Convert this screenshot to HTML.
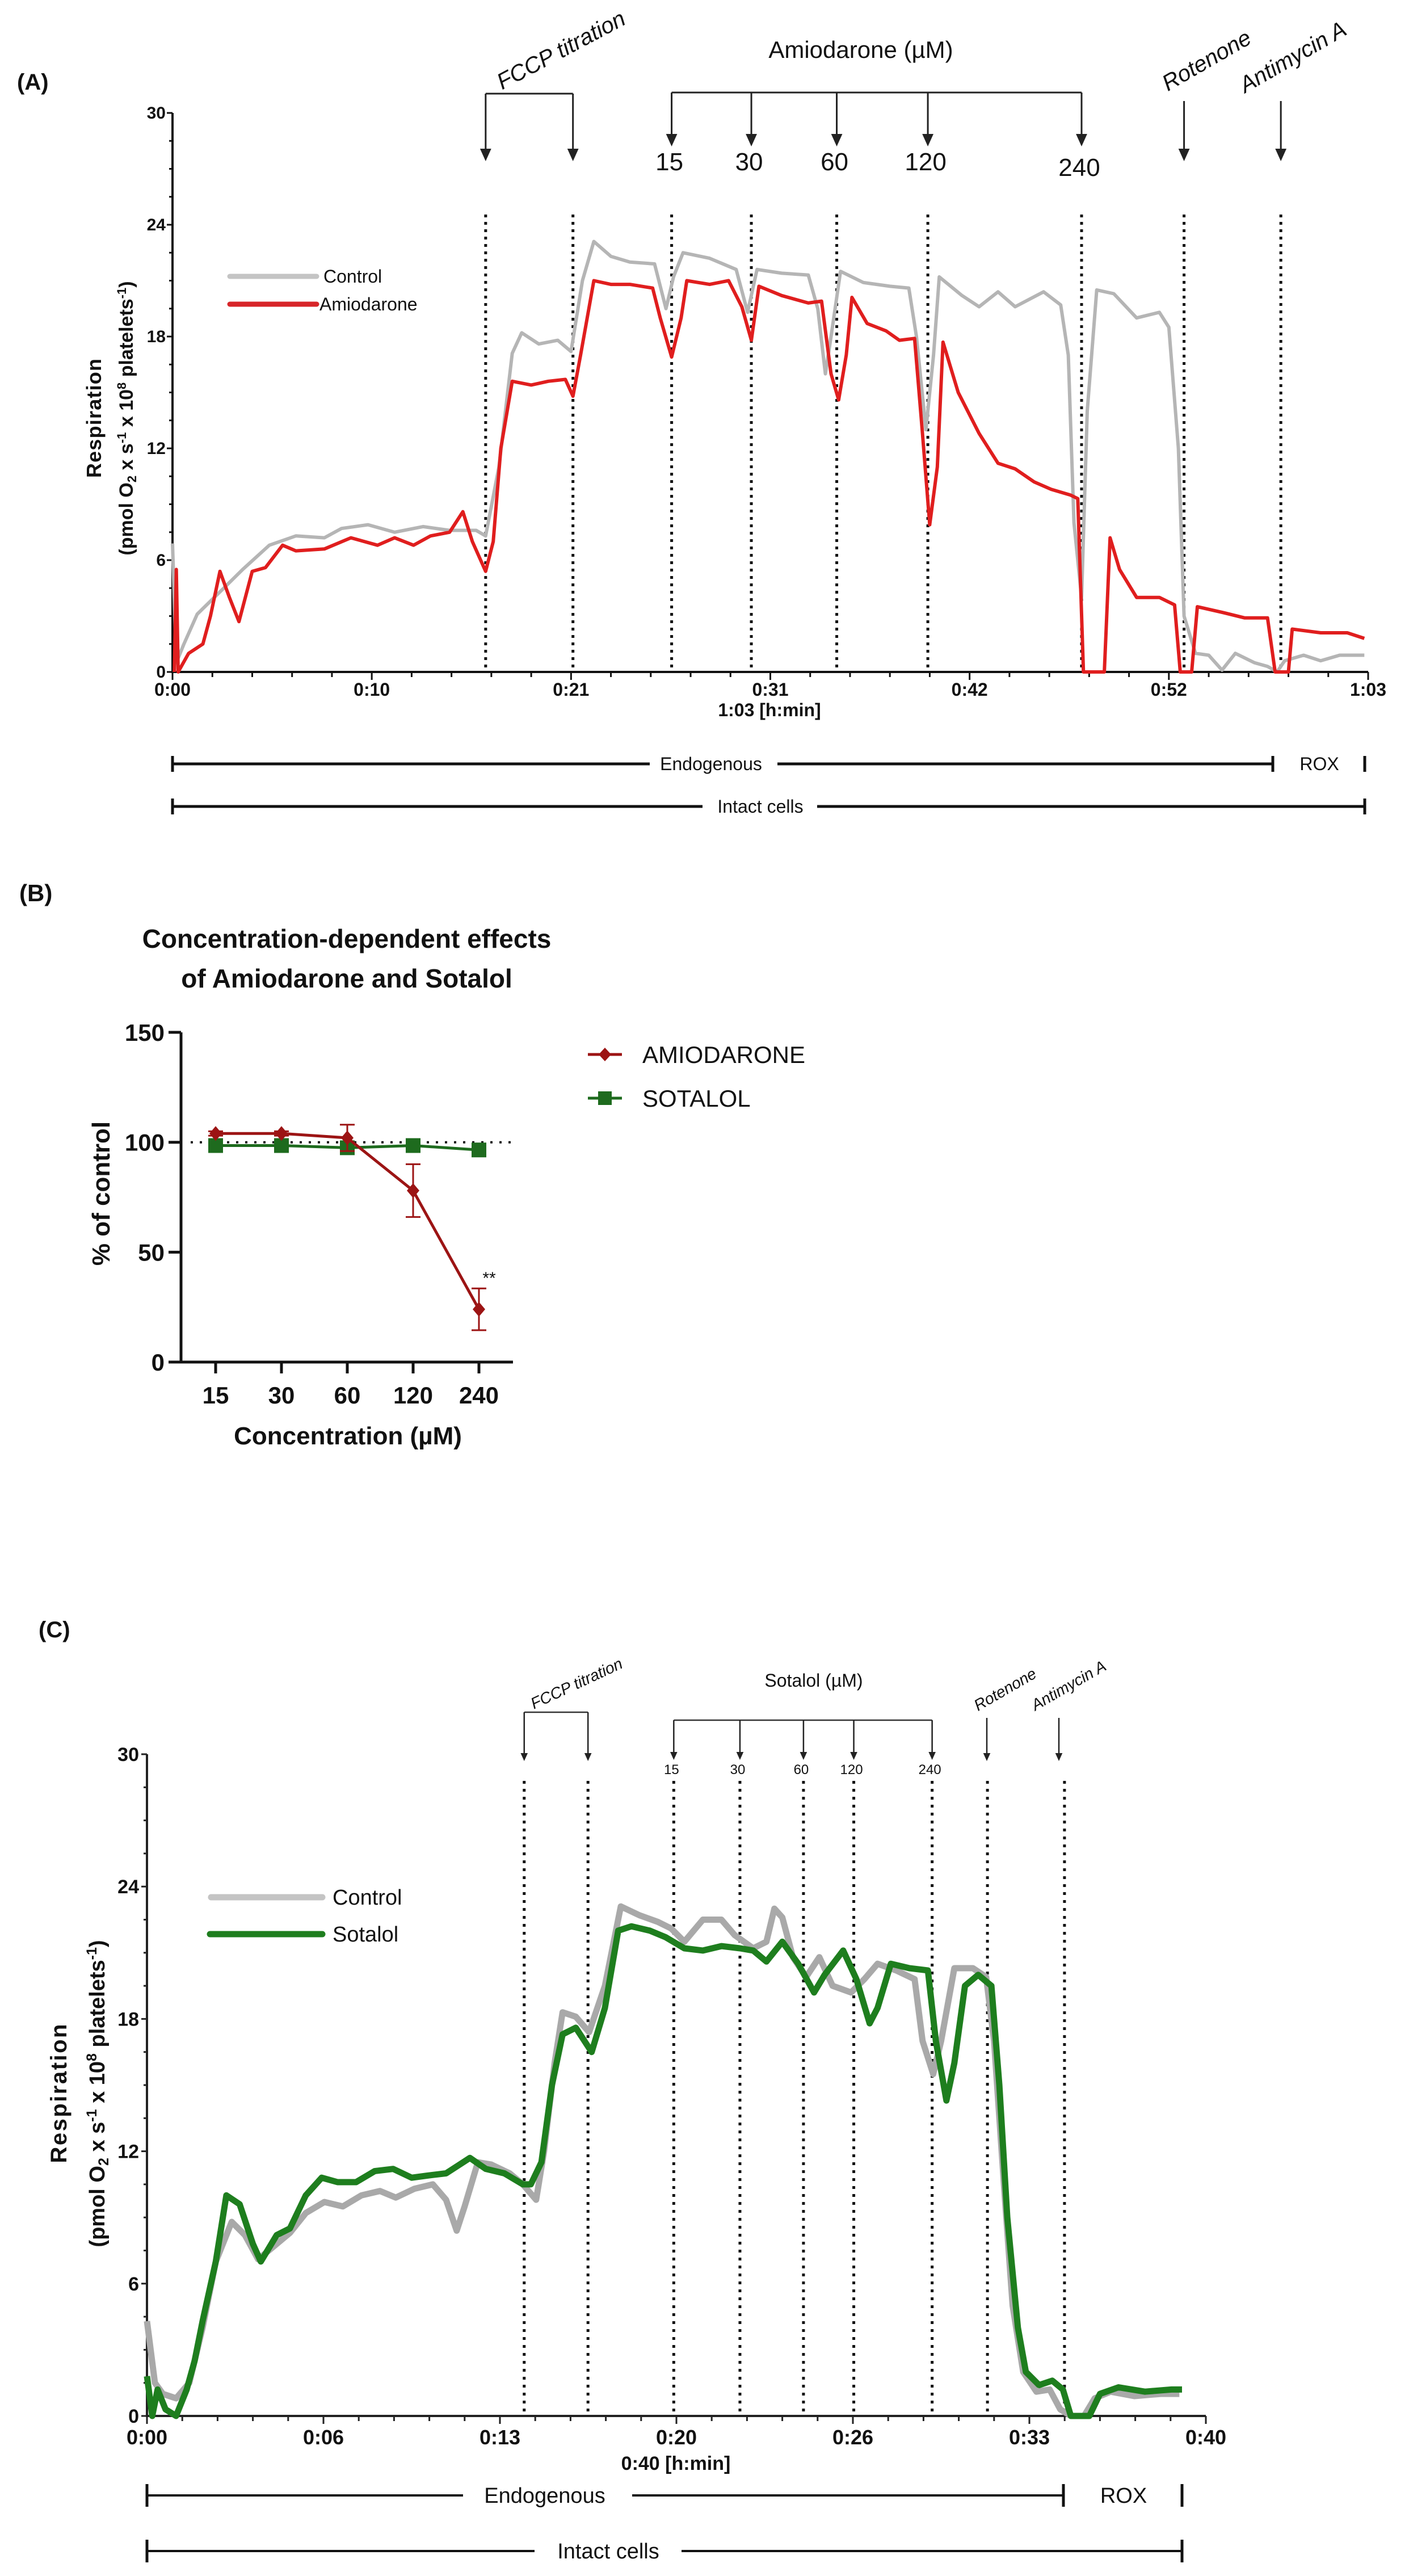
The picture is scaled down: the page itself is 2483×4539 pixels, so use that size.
<!DOCTYPE html>
<html><head><meta charset="utf-8">
<style>
html,body{margin:0;padding:0;background:#fff;}
svg{display:block;}
text{font-family:"Liberation Sans Narrow","Liberation Sans",sans-serif;fill:#111;}
.b{font-family:"Liberation Sans",sans-serif;font-weight:bold;}
</style></head>
<body>
<svg id="fig" xmlns="http://www.w3.org/2000/svg" width="2483" height="4539" viewBox="0 0 2483 4539">
<rect width="2483" height="4539" fill="#fff"/>
<g id="pa"></g>
<g id="pb"></g>
<g id="pc"></g>
</svg>
<script>
// ---------- Panel A data ----------
const aTickLabels = ["0:00","0:10","0:21","0:31","0:42","0:52","1:03"];
const aYTicks = [0,6,12,18,24,30];
const aEventTimes = [16.5,21.1,26.3,30.5,35.0,39.8,47.9,53.3,58.4];
const aDoseLabels = ["15","30","60","120","240"];
const aCtrlT = [0,0.2,0.6,1.3,2.7,3.7,5.1,6.5,8,8.9,10.3,11.7,13.2,14.6,16,16.5,17.2,17.9,18.4,19.3,20.3,21,21.6,22.2,23.1,24.1,25.4,26,26.4,26.9,28.3,29.7,30.3,30.8,32.1,33.5,34,34.4,34.7,35.2,36.4,37.8,38.8,39.2,39.7,40.1,40.4,41.6,42.5,43.5,44.4,45.9,46.8,47.2,47.5,47.9,48.2,48.7,49.6,50.8,52,52.5,53,53.3,53.9,54.6,55.3,56,57,57.7,58.2,58.6,59.6,60.5,61.5,62.8];
const aCtrlV = [6.9,0.5,1.5,3.1,4.5,5.5,6.8,7.3,7.2,7.7,7.9,7.5,7.8,7.6,7.6,7.3,11,17.1,18.2,17.6,17.8,17.2,21,23.1,22.3,22,21.9,19.5,21.2,22.5,22.2,21.6,19.3,21.6,21.4,21.3,19.5,16,18,21.5,20.9,20.7,20.6,18,13,17,21.2,20.2,19.6,20.4,19.6,20.4,19.7,17,8,4,14,20.5,20.3,19,19.3,18.5,12,3,1,0.9,0.1,1,0.5,0.3,0,0.6,0.9,0.6,0.9,0.9];
const aAmioT = [0.1,0.2,0.3,0.85,1.6,2,2.5,3,3.5,4.2,4.9,5.8,6.5,8,9.4,10.8,11.7,12.7,13.6,14.6,15.3,15.8,16.5,16.9,17.3,17.9,18.9,19.8,20.7,21.1,21.5,22.2,23.1,24.1,25.3,25.7,26.3,26.8,27.1,28.3,29.3,30,30.5,30.9,32.1,33.5,34.2,34.7,35.1,35.5,35.8,36.6,37.6,38.3,39.1,39.5,39.9,40.3,40.6,41.4,42.5,43.5,44.4,45.4,46.3,47.3,47.7,48,49.1,49.4,49.9,50.8,52,52.8,53.1,53.7,54,55.3,56.5,57.7,58.1,58.8,59,60.5,61.9,62.8];
const aAmioV = [0,5.5,0,1,1.5,3,5.4,4,2.7,5.4,5.6,6.8,6.5,6.6,7.2,6.8,7.2,6.8,7.3,7.5,8.6,7,5.4,7,12,15.6,15.4,15.6,15.7,14.8,17,21,20.8,20.8,20.6,19,16.9,19,21,20.8,21,19.6,17.8,20.7,20.2,19.8,19.9,16,14.6,17,20.1,18.7,18.3,17.8,17.9,13,7.9,11,17.7,15,12.8,11.2,10.9,10.2,9.8,9.5,9.3,0,0,7.2,5.5,4,4,3.6,0,0,3.5,3.2,2.9,2.9,0,0,2.3,2.1,2.1,1.8];

// ---------- Panel B data ----------
const bCategories = ["15","30","60","120","240"];
const bAmioMean = [104,104,102,78,24];
const bAmioErr = [1,1,6,12,9.5];
const bSotalolMean = [98.5,98.5,97.5,98.5,96.5];
const bYTicks = [0,50,100,150];

// ---------- Panel C data ----------
const cTickLabels = ["0:00","0:06","0:13","0:20","0:26","0:33","0:40"];
const cYTicks = [0,6,12,18,24,30];
const cEventTimes = [14.25,16.66,19.9,22.4,24.8,26.7,29.66,31.75,34.66];
const cDoseLabels = ["15","30","60","120","240"];
const cCtrlT = [0,0.3,0.6,1.1,1.6,2.1,2.6,3.2,3.7,4.2,4.7,5.4,6,6.7,7.4,8.1,8.8,9.4,10.1,10.8,11.3,11.7,12,12.5,13,13.7,14.2,14.7,15,15.4,15.7,16.2,16.7,17.3,17.9,18.6,19.3,19.8,20.3,21,21.7,22.2,22.9,23.4,23.7,24,24.4,24.9,25.4,25.9,26.6,27.1,27.6,28.3,29,29.3,29.7,30,30.5,31.2,31.7,32,32.4,32.7,33.1,33.6,34.1,34.5,34.9,35.4,35.8,36.4,37.3,38.3,39];
const cCtrlV = [4.3,1.5,1,0.8,1.5,4,7,8.8,8.2,7.1,7.6,8.3,9.2,9.7,9.5,10,10.2,9.9,10.3,10.5,9.8,8.4,9.5,11.5,11.4,11,10.5,9.8,12,16,18.3,18.1,17.4,19.5,23.1,22.7,22.4,22.1,21.5,22.5,22.5,21.8,21.2,21.5,23,22.6,20.8,19.9,20.8,19.5,19.2,19.8,20.5,20.2,19.8,17,15.5,17,20.3,20.3,19.9,17,10,5,2,1.1,1.2,0.3,0,0,0.8,1.1,0.9,1,1];
const cSotT = [0,0.2,0.4,0.7,1.1,1.5,1.8,2.1,2.6,3,3.5,4,4.3,4.9,5.4,6,6.6,7.2,7.9,8.6,9.3,10,10.6,11.3,12.2,12.8,13.5,14.2,14.5,14.9,15.3,15.7,16.2,16.8,17.3,17.8,18.3,19,19.6,20.3,21,21.7,22.4,22.9,23.4,24,24.6,25.2,25.6,26.3,26.8,27.3,27.6,28.1,28.8,29.5,29.8,30.2,30.5,30.9,31.4,31.9,32.2,32.5,32.9,33.2,33.7,34.2,34.6,34.9,35.6,36,36.7,37.7,38.7,39.1];
const cSotV = [1.8,0,1.2,0.3,0,1.2,2.5,4.3,7,10,9.6,7.8,7,8.2,8.5,10,10.8,10.6,10.6,11.1,11.2,10.8,10.9,11,11.7,11.2,11,10.5,10.5,11.5,15,17.3,17.6,16.5,18.5,22,22.2,22,21.7,21.2,21.1,21.3,21.2,21.1,20.6,21.5,20.5,19.2,20,21.1,19.8,17.8,18.5,20.5,20.3,20.2,17,14.3,16,19.5,20,19.5,15,9,4,2,1.4,1.6,1.2,0,0,1,1.3,1.1,1.2,1.2];

const NS = "http://www.w3.org/2000/svg";
function mk(parent, tag, attrs, txt){
  const e = document.createElementNS(NS, tag);
  for (const k in attrs) e.setAttribute(k, attrs[k]);
  if (txt !== undefined) e.textContent = txt;
  parent.appendChild(e);
  return e;
}
function pathFrom(ts, vs, xf, yf){
  let d = "";
  for (let i=0;i<ts.length;i++) d += (i?"L":"M") + xf(ts[i]).toFixed(1) + "," + yf(vs[i]).toFixed(1);
  return d;
}
function arrow(g, x, y1, y2, w, head){
  const l = mk(g,"line",{x1:x,y1:y1,x2:x,y2:y2-head,stroke:"#222","stroke-width":w});
  
  
  const p = mk(g,"polygon",{points:`${x-head*0.45},${y2-head} ${x+head*0.45},${y2-head} ${x},${y2}`,fill:"#222"});
  
  
}

// ================= PANEL A =================
(function(){
  const g = document.getElementById("pa");
  const x0=304, x1=2411, tMax=63, y0=1184, yTop=199;
  const xA = t => x0 + t*(x1-x0)/tMax;
  const yA = v => y0 - v*(y0-yTop)/30;
  let t;
  t = mk(g,"text",{x:30,y:158,"font-size":40,class:"b"},"(A)");
   
  // axes
  let ax = mk(g,"line",{x1:x0,y1:yTop,x2:x0,y2:y0,stroke:"#111","stroke-width":4});
   
  ax = mk(g,"line",{x1:x0-2,y1:y0,x2:x1,y2:y0,stroke:"#111","stroke-width":4});
   
  for (let v=0; v<=30; v+=1.5){
    const major = aYTicks.indexOf(v) >= 0;
    const tk = mk(g,"line",{x1:x0-(major?10:6),y1:yA(v),x2:x0,y2:yA(v),stroke:"#111","stroke-width":3});
     
  }
  aYTicks.forEach(v=>{
    const tl = mk(g,"text",{x:x0-12,y:yA(v)+10,"font-size":30,"text-anchor":"end","font-weight":"bold"},String(v));
     
  });
  for (let i=0;i<=30;i++){
    const tt = i*2.1, major = i%5===0;
    const tk = mk(g,"line",{x1:xA(tt),y1:y0,x2:xA(tt),y2:y0+(major?14:9),stroke:"#111","stroke-width":3});
     
  }
  aTickLabels.forEach((s,i)=>{
    const tl = mk(g,"text",{x:xA(i*10.5),y:1226,"font-size":32,"text-anchor":"middle","font-weight":"bold"},s);
     
  });
  t = mk(g,"text",{x:1356,y:1262,"font-size":32,"text-anchor":"middle","font-weight":"bold"},"1:03 [h:min]");
   
  // y title
  t = mk(g,"text",{x:0,y:0,"font-size":36,class:"b","text-anchor":"middle",transform:"translate(178,737) rotate(-90)",textLength:210},"Respiration");
   
  t = mk(g,"text",{x:0,y:0,"font-size":34,class:"b","text-anchor":"middle",transform:"translate(234,737) rotate(-90)"});
   
  t.innerHTML = '(pmol O<tspan font-size="22" dy="6">2</tspan><tspan dy="-6"> x s</tspan><tspan font-size="22" dy="-12">-1</tspan><tspan dy="12"> x 10</tspan><tspan font-size="22" dy="-12">8</tspan><tspan dy="12"> platelets</tspan><tspan font-size="22" dy="-12">-1</tspan><tspan dy="12">)</tspan>';
  // event dotted lines
  aEventTimes.forEach(et=>{
    const l = mk(g,"line",{x1:xA(et),y1:378,x2:xA(et),y2:y0,stroke:"#111","stroke-width":5,"stroke-dasharray":"5 8"});
     
  });
  // FCCP bracket
  const fx1 = xA(aEventTimes[0]), fx2 = xA(aEventTimes[1]);
  let br = mk(g,"line",{x1:fx1,y1:165,x2:fx2,y2:165,stroke:"#222","stroke-width":3});
   
  arrow(g,fx1,165,284,3,22); arrow(g,fx2,165,284,3,22);
  t = mk(g,"text",{x:0,y:0,"font-size":40,"font-style":"italic","text-anchor":"middle",transform:"translate(995,100) rotate(-28)"},"FCCP titration");
   
  // Amiodarone bracket
  const ax1 = xA(aEventTimes[2]), ax2 = xA(aEventTimes[6]);
  br = mk(g,"line",{x1:ax1,y1:163,x2:ax2,y2:163,stroke:"#222","stroke-width":3});
   
  for (let i=0;i<5;i++){
    const ex = xA(aEventTimes[2+i]);
    arrow(g,ex,163,258,3,22);
    const dl = mk(g,"text",{x:ex-4,y:i===4?310:300,"font-size":44,"text-anchor":"middle"},aDoseLabels[i]);
     
  }
  t = mk(g,"text",{x:1517,y:102,"font-size":42,"text-anchor":"middle"},"Amiodarone (µM)");
   
  arrow(g,xA(aEventTimes[7]),178,284,3,22);
  arrow(g,xA(aEventTimes[8]),178,284,3,22);
  t = mk(g,"text",{x:0,y:0,"font-size":40,"font-style":"italic","text-anchor":"middle",transform:"translate(2133,118) rotate(-30)"},"Rotenone");
   
  t = mk(g,"text",{x:0,y:0,"font-size":40,"font-style":"italic","text-anchor":"middle",transform:"translate(2285,112) rotate(-30)"},"Antimycin A");
   
  // series
  let s = mk(g,"path",{d:pathFrom(aCtrlT,aCtrlV,xA,yA),fill:"none",stroke:"#b5b5b5","stroke-width":6,"stroke-linejoin":"round"});
   
  s = mk(g,"path",{d:pathFrom(aAmioT,aAmioV,xA,yA),fill:"none",stroke:"#e01e1e","stroke-width":6,"stroke-linejoin":"round"});
   
  // legend
  let lg = mk(g,"line",{x1:405,y1:487,x2:558,y2:487,stroke:"#c4c4c4","stroke-width":9,"stroke-linecap":"round"});
   
  t = mk(g,"text",{x:570,y:498,"font-size":32},"Control");
   
  lg = mk(g,"line",{x1:405,y1:536,x2:558,y2:536,stroke:"#d7262a","stroke-width":9,"stroke-linecap":"round"});
   
  t = mk(g,"text",{x:563,y:547,"font-size":32},"Amiodarone");
   
  // phase bars
  const by1=1346, by2=1421;
  [[304,1145],[1370,2243]].forEach(p=>{
    const l = mk(g,"line",{x1:p[0],y1:by1,x2:p[1],y2:by1,stroke:"#111","stroke-width":5});
     
  });
  [[304,by1],[2243,by1],[2405,by1]].forEach(p=>{
    const l = mk(g,"line",{x1:p[0],y1:p[1]-14,x2:p[0],y2:p[1]+14,stroke:"#111","stroke-width":5});
     
  });
  t = mk(g,"text",{x:1253,y:1357,"font-size":32,"text-anchor":"middle"},"Endogenous");
   
  t = mk(g,"text",{x:2325,y:1357,"font-size":32,"text-anchor":"middle"},"ROX");
   
  [[304,1238],[1440,2405]].forEach(p=>{
    const l = mk(g,"line",{x1:p[0],y1:by2,x2:p[1],y2:by2,stroke:"#111","stroke-width":5});
     
  });
  [304,2405].forEach(x=>{
    const l = mk(g,"line",{x1:x,y1:by2-14,x2:x,y2:by2+14,stroke:"#111","stroke-width":5});
     
  });
  t = mk(g,"text",{x:1340,y:1432,"font-size":32,"text-anchor":"middle"},"Intact cells");
   
})();

// ================= PANEL B =================
(function(){
  const g = document.getElementById("pb");
  const catX = i => 380 + i*116;
  const yB = v => 2400 - v*3.873;
  const red="#9c1414", green="#1e6b1e";
  let t = mk(g,"text",{x:34,y:1588,"font-size":42,class:"b"},"(B)");
   
  t = mk(g,"text",{x:611,y:1670,"font-size":46,class:"b","text-anchor":"middle"},"Concentration-dependent effects");
   
  t = mk(g,"text",{x:611,y:1740,"font-size":46,class:"b","text-anchor":"middle"},"of Amiodarone and Sotalol");
   
  let a = mk(g,"line",{x1:319,y1:yB(150),x2:319,y2:2402,stroke:"#111","stroke-width":5});
   
  a = mk(g,"line",{x1:297,y1:2400,x2:904,y2:2400,stroke:"#111","stroke-width":5});
   
  bYTicks.forEach(v=>{
    const tk = mk(g,"line",{x1:297,y1:yB(v),x2:319,y2:yB(v),stroke:"#111","stroke-width":5});
     
    const tl = mk(g,"text",{x:290,y:yB(v)+15,"font-size":42,class:"b","text-anchor":"end"},String(v));
     
  });
  bCategories.forEach((c,i)=>{
    const tk = mk(g,"line",{x1:catX(i),y1:2400,x2:catX(i),y2:2420,stroke:"#111","stroke-width":5});
     
    const tl = mk(g,"text",{x:catX(i),y:2473,"font-size":42,class:"b","text-anchor":"middle"},c);
     
  });
  t = mk(g,"text",{x:613,y:2545,"font-size":44,class:"b","text-anchor":"middle"},"Concentration (µM)");
   
  t = mk(g,"text",{x:0,y:0,"font-size":44,class:"b","text-anchor":"middle",transform:"translate(193,2103) rotate(-90)"},"% of control");
   
  const ref = mk(g,"line",{x1:336,y1:yB(100),x2:904,y2:yB(100),stroke:"#111","stroke-width":4,"stroke-dasharray":"4 12"});
   
  // sotalol
  let d=""; bSotalolMean.forEach((v,i)=>{d+=(i?"L":"M")+catX(i)+","+yB(v);});
  let s = mk(g,"path",{d:d,fill:"none",stroke:green,"stroke-width":5});
   
  bSotalolMean.forEach((v,i)=>{
    const m = mk(g,"rect",{x:catX(i)-13,y:yB(v)-13,width:26,height:26,fill:green});
     
  });
  // amiodarone
  bAmioMean.forEach((v,i)=>{
    const e = bAmioErr[i];
    const eb = mk(g,"path",{d:`M${catX(i)},${yB(v+e)}L${catX(i)},${yB(v-e)}M${catX(i)-13},${yB(v+e)}L${catX(i)+13},${yB(v+e)}M${catX(i)-13},${yB(v-e)}L${catX(i)+13},${yB(v-e)}`,stroke:red,"stroke-width":3,fill:"none"});
     
  });
  d=""; bAmioMean.forEach((v,i)=>{d+=(i?"L":"M")+catX(i)+","+yB(v);});
  s = mk(g,"path",{d:d,fill:"none",stroke:red,"stroke-width":5});
   
  bAmioMean.forEach((v,i)=>{
    const x=catX(i), y=yB(v);
    const m = mk(g,"polygon",{points:`${x},${y-13} ${x+11},${y} ${x},${y+13} ${x-11},${y}`,fill:red});
     
  });
  t = mk(g,"text",{x:862,y:2262,"font-size":30,"text-anchor":"middle","font-family":"Liberation Sans"},"**");
   
  // legend
  let lg = mk(g,"line",{x1:1036,y1:1858,x2:1096,y2:1858,stroke:red,"stroke-width":5});
   
  lg = mk(g,"polygon",{points:"1066,1846 1077,1858 1066,1870 1055,1858",fill:red});
   
  t = mk(g,"text",{x:1132,y:1873,"font-size":42,"font-family":"Liberation Sans"},"AMIODARONE");
   
  lg = mk(g,"line",{x1:1036,y1:1935,x2:1096,y2:1935,stroke:green,"stroke-width":5});
   
  lg = mk(g,"rect",{x:1054,y:1923,width:24,height:24,fill:green});
   
  t = mk(g,"text",{x:1132,y:1950,"font-size":42,"font-family":"Liberation Sans"},"SOTALOL");
   
})();

// ================= PANEL C =================
(function(){
  const g = document.getElementById("pc");
  const x0=259, tMax=40, pxPerMin=46.65, y0=4257, yTop=3091;
  const xC = t => x0 + t*pxPerMin;
  const yC = v => y0 - v*(y0-yTop)/30;
  const x1 = xC(40);
  let t = mk(g,"text",{x:68,y:2885,"font-size":40,class:"b"},"(C)");
   
  let ax = mk(g,"line",{x1:x0,y1:yTop,x2:x0,y2:y0,stroke:"#222","stroke-width":4});
   
  ax = mk(g,"line",{x1:x0-2,y1:y0,x2:x1,y2:y0,stroke:"#222","stroke-width":4});
   
  for (let v=0; v<=30; v+=1.5){
    const major = cYTicks.indexOf(v) >= 0;
    const tk = mk(g,"line",{x1:x0-(major?10:6),y1:yC(v),x2:x0,y2:yC(v),stroke:"#222","stroke-width":3});
     
  }
  cYTicks.forEach(v=>{
    const tl = mk(g,"text",{x:x0-14,y:yC(v)+12,"font-size":34,"text-anchor":"end","font-weight":"bold"},String(v));
     
  });
  for (let i=0;i<=30;i++){
    const tt = i*40/30, major = i%5===0;
    const tk = mk(g,"line",{x1:xC(tt),y1:y0,x2:xC(tt),y2:y0+(major?14:9),stroke:"#222","stroke-width":3});
     
  }
  cTickLabels.forEach((s,i)=>{
    const tl = mk(g,"text",{x:xC(i*40/6),y:4307,"font-size":36,"text-anchor":"middle","font-weight":"bold"},s);
     
  });
  t = mk(g,"text",{x:1191,y:4352,"font-size":34,"text-anchor":"middle","font-weight":"bold"},"0:40 [h:min]");
   
  t = mk(g,"text",{x:0,y:0,"font-size":40,class:"b","text-anchor":"middle",transform:"translate(117,3689) rotate(-90)",textLength:245},"Respiration");
   
  t = mk(g,"text",{x:0,y:0,"font-size":38,class:"b","text-anchor":"middle",transform:"translate(184,3689) rotate(-90)"});
   
  t.innerHTML = '(pmol O<tspan font-size="25" dy="7">2</tspan><tspan dy="-7"> x s</tspan><tspan font-size="25" dy="-14">-1</tspan><tspan dy="14"> x 10</tspan><tspan font-size="25" dy="-14">8</tspan><tspan dy="14"> platelets</tspan><tspan font-size="25" dy="-14">-1</tspan><tspan dy="14">)</tspan>';
  cEventTimes.forEach(et=>{
    const l = mk(g,"line",{x1:xC(et),y1:3138,x2:xC(et),y2:y0,stroke:"#111","stroke-width":5,"stroke-dasharray":"5 9"});
     
  });
  const fx1=xC(cEventTimes[0]), fx2=xC(cEventTimes[1]);
  let br = mk(g,"line",{x1:fx1,y1:3017,x2:fx2,y2:3017,stroke:"#333","stroke-width":2.5});
   
  arrow(g,fx1,3017,3103,2.5,14); arrow(g,fx2,3017,3103,2.5,14);
  t = mk(g,"text",{x:0,y:0,"font-size":28,"font-style":"italic","text-anchor":"middle",transform:"translate(1020,2975) rotate(-25)"},"FCCP titration");
   
  const sx1=xC(cEventTimes[2]), sx2=xC(cEventTimes[6]);
  br = mk(g,"line",{x1:sx1,y1:3031,x2:sx2,y2:3031,stroke:"#333","stroke-width":2.5});
   
  for (let i=0;i<5;i++){
    const ex = xC(cEventTimes[2+i]);
    arrow(g,ex,3031,3101,2.5,14);
    const dl = mk(g,"text",{x:ex-4,y:3126,"font-size":24,"text-anchor":"middle"},cDoseLabels[i]);
     
  }
  t = mk(g,"text",{x:1434,y:2972,"font-size":32,"text-anchor":"middle"},"Sotalol (µM)");
   
  arrow(g,1739,3027,3103,2.5,14);
  arrow(g,1866,3027,3103,2.5,14);
  t = mk(g,"text",{x:0,y:0,"font-size":28,"font-style":"italic","text-anchor":"middle",transform:"translate(1776,2985) rotate(-30)"},"Rotenone");
   
  t = mk(g,"text",{x:0,y:0,"font-size":28,"font-style":"italic","text-anchor":"middle",transform:"translate(1888,2978) rotate(-30)"},"Antimycin A");
   
  let s = mk(g,"path",{d:pathFrom(cCtrlT,cCtrlV,xC,yC),fill:"none",stroke:"#a9a9a9","stroke-width":11,"stroke-linejoin":"round"});
   
  s = mk(g,"path",{d:pathFrom(cSotT,cSotV,xC,yC),fill:"none",stroke:"#1e7e1e","stroke-width":11,"stroke-linejoin":"round"});
   
  let lg = mk(g,"line",{x1:372,y1:3343,x2:568,y2:3343,stroke:"#c4c4c4","stroke-width":11,"stroke-linecap":"round"});
   
  t = mk(g,"text",{x:586,y:3356,"font-size":38},"Control");
   
  lg = mk(g,"line",{x1:370,y1:3408,x2:568,y2:3408,stroke:"#1e7e1e","stroke-width":11,"stroke-linecap":"round"});
   
  t = mk(g,"text",{x:586,y:3421,"font-size":38},"Sotalol");
   
  const by1=4397, by2=4495;
  [[259,816],[1114,1874]].forEach(p=>{
    const l = mk(g,"line",{x1:p[0],y1:by1,x2:p[1],y2:by1,stroke:"#111","stroke-width":4});
     
  });
  [259,1874,2083].forEach(x=>{
    const l = mk(g,"line",{x1:x,y1:by1-20,x2:x,y2:by1+20,stroke:"#111","stroke-width":5});
     
  });
  t = mk(g,"text",{x:960,y:4410,"font-size":38,"text-anchor":"middle"},"Endogenous");
   
  t = mk(g,"text",{x:1980,y:4410,"font-size":38,"text-anchor":"middle"},"ROX");
   
  [[259,942],[1201,2083]].forEach(p=>{
    const l = mk(g,"line",{x1:p[0],y1:by2,x2:p[1],y2:by2,stroke:"#111","stroke-width":4});
     
  });
  [259,2083].forEach(x=>{
    const l = mk(g,"line",{x1:x,y1:by2-20,x2:x,y2:by2+20,stroke:"#111","stroke-width":5});
     
  });
  t = mk(g,"text",{x:1072,y:4508,"font-size":38,"text-anchor":"middle"},"Intact cells");
   
})();
</script>
</body></html>
